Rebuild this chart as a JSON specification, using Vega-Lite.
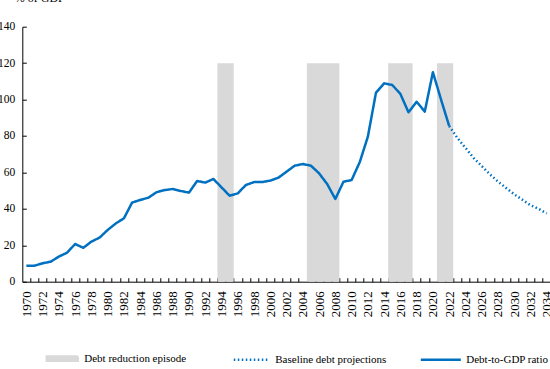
{
  "$schema": "https://vega.github.io/schema/vega-lite/v6.json",
  "width": 528.5,
  "height": 255,
  "autosize": {"type": "none"},
  "padding": {"left": 22.3, "top": 26.7, "right": 0, "bottom": 87.3},
  "config": {
    "font": "Liberation Serif",
    "view": {"stroke": null},
    "axis": {
      "labelFont": "Liberation Serif",
      "labelFontSize": 12,
      "labelColor": "#000000",
      "domainColor": "#000000",
      "domainWidth": 1,
      "tickColor": "#000000",
      "tickWidth": 1,
      "grid": false,
      "labelOverlap": false,
      "titleFont": "Liberation Serif",
      "titleFontSize": 12,
      "titleFontWeight": "normal",
      "titleColor": "#000000"
    }
  },
  "datasets": {
    "debt": [
      {"year": 1970, "value": 8.8, "series": "Debt-to-GDP ratio"},
      {"year": 1971, "value": 8.8, "series": "Debt-to-GDP ratio"},
      {"year": 1972, "value": 10.1, "series": "Debt-to-GDP ratio"},
      {"year": 1973, "value": 11.0, "series": "Debt-to-GDP ratio"},
      {"year": 1974, "value": 13.8, "series": "Debt-to-GDP ratio"},
      {"year": 1975, "value": 15.9, "series": "Debt-to-GDP ratio"},
      {"year": 1976, "value": 20.7, "series": "Debt-to-GDP ratio"},
      {"year": 1977, "value": 18.6, "series": "Debt-to-GDP ratio"},
      {"year": 1978, "value": 22.0, "series": "Debt-to-GDP ratio"},
      {"year": 1979, "value": 24.2, "series": "Debt-to-GDP ratio"},
      {"year": 1980, "value": 28.4, "series": "Debt-to-GDP ratio"},
      {"year": 1981, "value": 32.0, "series": "Debt-to-GDP ratio"},
      {"year": 1982, "value": 34.8, "series": "Debt-to-GDP ratio"},
      {"year": 1983, "value": 43.4, "series": "Debt-to-GDP ratio"},
      {"year": 1984, "value": 44.9, "series": "Debt-to-GDP ratio"},
      {"year": 1985, "value": 46.1, "series": "Debt-to-GDP ratio"},
      {"year": 1986, "value": 49.1, "series": "Debt-to-GDP ratio"},
      {"year": 1987, "value": 50.3, "series": "Debt-to-GDP ratio"},
      {"year": 1988, "value": 50.9, "series": "Debt-to-GDP ratio"},
      {"year": 1989, "value": 49.8, "series": "Debt-to-GDP ratio"},
      {"year": 1990, "value": 48.9, "series": "Debt-to-GDP ratio"},
      {"year": 1991, "value": 55.3, "series": "Debt-to-GDP ratio"},
      {"year": 1992, "value": 54.4, "series": "Debt-to-GDP ratio"},
      {"year": 1993, "value": 56.4, "series": "Debt-to-GDP ratio"},
      {"year": 1994, "value": 51.8, "series": "Debt-to-GDP ratio"},
      {"year": 1995, "value": 47.2, "series": "Debt-to-GDP ratio"},
      {"year": 1996, "value": 48.5, "series": "Debt-to-GDP ratio"},
      {"year": 1997, "value": 53.1, "series": "Debt-to-GDP ratio"},
      {"year": 1998, "value": 54.7, "series": "Debt-to-GDP ratio"},
      {"year": 1999, "value": 54.7, "series": "Debt-to-GDP ratio"},
      {"year": 2000, "value": 55.5, "series": "Debt-to-GDP ratio"},
      {"year": 2001, "value": 57.1, "series": "Debt-to-GDP ratio"},
      {"year": 2002, "value": 60.4, "series": "Debt-to-GDP ratio"},
      {"year": 2003, "value": 63.7, "series": "Debt-to-GDP ratio"},
      {"year": 2004, "value": 64.6, "series": "Debt-to-GDP ratio"},
      {"year": 2005, "value": 63.7, "series": "Debt-to-GDP ratio"},
      {"year": 2006, "value": 59.5, "series": "Debt-to-GDP ratio"},
      {"year": 2007, "value": 53.6, "series": "Debt-to-GDP ratio"},
      {"year": 2008, "value": 45.4, "series": "Debt-to-GDP ratio"},
      {"year": 2009, "value": 54.9, "series": "Debt-to-GDP ratio"},
      {"year": 2010, "value": 55.8, "series": "Debt-to-GDP ratio"},
      {"year": 2011, "value": 65.6, "series": "Debt-to-GDP ratio"},
      {"year": 2012, "value": 79.6, "series": "Debt-to-GDP ratio"},
      {"year": 2013, "value": 103.8, "series": "Debt-to-GDP ratio"},
      {"year": 2014, "value": 108.9, "series": "Debt-to-GDP ratio"},
      {"year": 2015, "value": 108.0, "series": "Debt-to-GDP ratio"},
      {"year": 2016, "value": 103.1, "series": "Debt-to-GDP ratio"},
      {"year": 2017, "value": 93.0, "series": "Debt-to-GDP ratio"},
      {"year": 2018, "value": 98.8, "series": "Debt-to-GDP ratio"},
      {"year": 2019, "value": 93.4, "series": "Debt-to-GDP ratio"},
      {"year": 2020, "value": 115.0, "series": "Debt-to-GDP ratio"},
      {"year": 2021, "value": 100.0, "series": "Debt-to-GDP ratio"},
      {"year": 2022, "value": 85.5, "series": "Debt-to-GDP ratio"},
      {"year": 2022, "value": 85.5, "series": "Baseline debt projections"},
      {"year": 2023, "value": 79.0, "series": "Baseline debt projections"},
      {"year": 2024, "value": 73.5, "series": "Baseline debt projections"},
      {"year": 2025, "value": 68.0, "series": "Baseline debt projections"},
      {"year": 2026, "value": 63.5, "series": "Baseline debt projections"},
      {"year": 2027, "value": 59.0, "series": "Baseline debt projections"},
      {"year": 2028, "value": 55.0, "series": "Baseline debt projections"},
      {"year": 2029, "value": 51.5, "series": "Baseline debt projections"},
      {"year": 2030, "value": 48.0, "series": "Baseline debt projections"},
      {"year": 2031, "value": 45.0, "series": "Baseline debt projections"},
      {"year": 2032, "value": 42.0, "series": "Baseline debt projections"},
      {"year": 2033, "value": 40.0, "series": "Baseline debt projections"},
      {"year": 2034, "value": 37.5, "series": "Baseline debt projections"}
    ],
    "episodes": [
      {"start": 1993.5, "end": 1995.5, "top": 120, "series": "Debt reduction episode"},
      {"start": 2004.5, "end": 2008.5, "top": 120, "series": "Debt reduction episode"},
      {"start": 2014.5, "end": 2017.5, "top": 120, "series": "Debt reduction episode"},
      {"start": 2020.5, "end": 2022.5, "top": 120, "series": "Debt reduction episode"}
    ]
  },
  "encoding": {
    "x": {
      "type": "quantitative",
      "scale": {"domain": [1969.5, 2034.5], "nice": false, "zero": false},
      "axis": {
        "title": null,
        "values": [1970,1971,1972,1973,1974,1975,1976,1977,1978,1979,1980,1981,1982,1983,1984,1985,1986,1987,1988,1989,1990,1991,1992,1993,1994,1995,1996,1997,1998,1999,2000,2001,2002,2003,2004,2005,2006,2007,2008,2009,2010,2011,2012,2013,2014,2015,2016,2017,2018,2019,2020,2021,2022,2023,2024,2025,2026,2027,2028,2029,2030,2031,2032,2033,2034],
        "labelExpr": "datum.value % 2 == 0 ? '' + datum.value : ''",
        "labelAngle": 270,
        "labelFontSize": 13,
        "labelOverlap": false,
        "labelFlush": false,
        "tickOffset": 4.065,
        "labelOffset": -4.065,
        "tickSize": -4,
        "labelPadding": 13
      }
    },
    "y": {
      "type": "quantitative",
      "scale": {"domain": [0, 140], "nice": false},
      "axis": {
        "title": "% of GDP",
        "titleAngle": 0,
        "titleAlign": "left",
        "titleBaseline": "alphabetic",
        "titleX": -8,
        "titleY": -25.5,
        "values": [0, 20, 40, 60, 80, 100, 120, 140],
        "labelOverlap": false,
        "labelFontSize": 11.5,
        "tickSize": -4,
        "labelPadding": 11.5
      }
    }
  },
  "layer": [
    {
      "data": {"name": "episodes"},
      "mark": {"type": "rect"},
      "encoding": {
        "x": {"field": "start"},
        "x2": {"field": "end"},
        "y": {"field": "top"},
        "y2": {"datum": 0},
        "color": {
          "field": "series",
          "type": "nominal",
          "scale": {
            "domain": ["Debt reduction episode", "Baseline debt projections", "Debt-to-GDP ratio"],
            "range": ["#d9d9d9", "#0070c0", "#0070c0"]
          },
          "legend": {
            "title": null,
            "orient": "none",
            "direction": "horizontal",
            "legendX": 15,
            "legendY": 310.3,
            "padding": 0,
            "gridAlign": "all",
            "columnPadding": 28,
            "labelFont": "Liberation Serif",
            "labelFontSize": 11,
            "labelColor": "#000000",
            "labelOffset": 4,
            "symbolSize": 1600,
            "symbolStrokeWidth": 2.5,
            "encode": {
              "symbols": {
                "update": {
                  "shape": {"signal": "datum.value === 'Debt reduction episode' ? 'M-0.6,-0.11H0.95V0.11H-0.6Z' : (datum.value === 'Baseline debt projections' ? 'M-0.8,0H1' : 'M-1,0H1')"},
                  "fill": {"signal": "datum.value === 'Debt reduction episode' ? '#d9d9d9' : 'transparent'"},
                  "stroke": {"signal": "datum.value === 'Debt reduction episode' ? 'transparent' : '#0070c0'"},
                  "strokeDash": {"signal": "datum.value === 'Baseline debt projections' ? [1.5, 2.5] : [1, 0]"},
                  "strokeWidth": {"value": 2.5},
                  "opacity": {"value": 1}
                }
              }
            }
          }
        }
      }
    },
    {
      "data": {"name": "debt"},
      "mark": {"type": "line", "strokeWidth": 2.5, "strokeJoin": "round"},
      "encoding": {
        "x": {"field": "year"},
        "y": {"field": "value"},
        "color": {"field": "series", "type": "nominal"},
        "strokeDash": {
          "field": "series",
          "type": "nominal",
          "scale": {
            "domain": ["Baseline debt projections", "Debt-to-GDP ratio"],
            "range": [[1.5, 2.5], [1, 0]]
          },
          "legend": null
        }
      }
    }
  ]
}
